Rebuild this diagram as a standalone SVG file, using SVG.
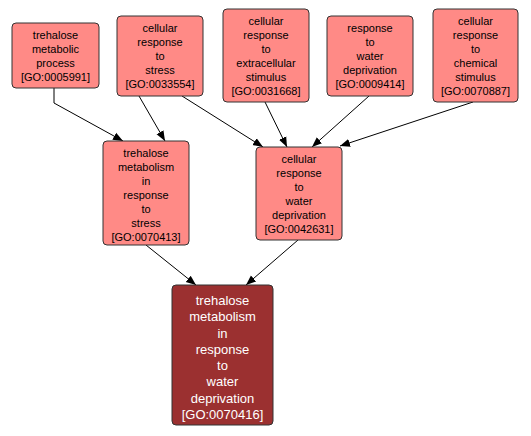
<svg xmlns="http://www.w3.org/2000/svg" width="531" height="436" viewBox="0 0 531 436">
<defs>
<marker id="ah" viewBox="0 0 10 10" refX="10" refY="5" markerWidth="10" markerHeight="10" markerUnits="userSpaceOnUse" orient="auto">
<path d="M0,1 L10,5 L0,9 Z" fill="#000"/>
</marker>
<style>
.n rect{fill:#ff8a86;stroke:#333;stroke-width:1}
.d rect{fill:#9b3030;stroke:#333;stroke-width:1}
text{font-family:"Liberation Sans",Arial,sans-serif;font-size:11px;text-anchor:middle;fill:#000}
.d text{fill:#fff;font-size:13px}
.e path{fill:none;stroke:#000;stroke-width:1;marker-end:url(#ah)}
</style>
</defs>
<rect width="531" height="436" fill="#fff"/>
<g class="e">
<path d="M54,88 L54,103 L123,141"/>
<path d="M139,96 L165,141"/>
<path d="M182,96 L263,147"/>
<path d="M265,102 L287,147"/>
<path d="M369,96 L312,147"/>
<path d="M473,102 L340,146"/>
<path d="M146,245 L196,285"/>
<path d="M298,240 L246,285"/>
</g>
<g id="GO0005991" class="n">
<rect x="12" y="23" width="87" height="65" rx="4"/>
<text x="55.5" y="39">trehalose</text>
<text x="55.5" y="53">metabolic</text>
<text x="55.5" y="67">process</text>
<text x="55.5" y="81">[GO:0005991]</text>
</g>
<g id="GO0033554" class="n">
<rect x="117" y="16" width="86" height="80" rx="4"/>
<text x="160" y="32">cellular</text>
<text x="160" y="46">response</text>
<text x="160" y="60">to</text>
<text x="160" y="74">stress</text>
<text x="160" y="88">[GO:0033554]</text>
</g>
<g id="GO0031668" class="n">
<rect x="223" y="9" width="86" height="93" rx="4"/>
<text x="266" y="25">cellular</text>
<text x="266" y="39">response</text>
<text x="266" y="53">to</text>
<text x="266" y="67">extracellular</text>
<text x="266" y="81">stimulus</text>
<text x="266" y="95">[GO:0031668]</text>
</g>
<g id="GO0009414" class="n">
<rect x="327" y="16" width="86" height="80" rx="4"/>
<text x="370" y="32">response</text>
<text x="370" y="46">to</text>
<text x="370" y="60">water</text>
<text x="370" y="74">deprivation</text>
<text x="370" y="88">[GO:0009414]</text>
</g>
<g id="GO0070887" class="n">
<rect x="433" y="9" width="85" height="93" rx="4"/>
<text x="475.5" y="25">cellular</text>
<text x="475.5" y="39">response</text>
<text x="475.5" y="53">to</text>
<text x="475.5" y="67">chemical</text>
<text x="475.5" y="81">stimulus</text>
<text x="475.5" y="95">[GO:0070887]</text>
</g>
<g id="GO0070413" class="n">
<rect x="103" y="141" width="86" height="104" rx="4"/>
<text x="146" y="157">trehalose</text>
<text x="146" y="171">metabolism</text>
<text x="146" y="185">in</text>
<text x="146" y="199">response</text>
<text x="146" y="213">to</text>
<text x="146" y="227">stress</text>
<text x="146" y="241">[GO:0070413]</text>
</g>
<g id="GO0042631" class="n">
<rect x="256" y="147" width="86" height="93" rx="4"/>
<text x="299" y="163">cellular</text>
<text x="299" y="177">response</text>
<text x="299" y="191">to</text>
<text x="299" y="205">water</text>
<text x="299" y="219">deprivation</text>
<text x="299" y="233">[GO:0042631]</text>
</g>
<g id="GO0070416" class="d">
<rect x="172" y="285" width="101" height="140" rx="4"/>
<text x="222.5" y="305">trehalose</text>
<text x="222.5" y="321">metabolism</text>
<text x="222.5" y="337.5">in</text>
<text x="222.5" y="354">response</text>
<text x="222.5" y="370">to</text>
<text x="222.5" y="386">water</text>
<text x="222.5" y="402.5">deprivation</text>
<text x="222.5" y="419">[GO:0070416]</text>
</g>
</svg>
